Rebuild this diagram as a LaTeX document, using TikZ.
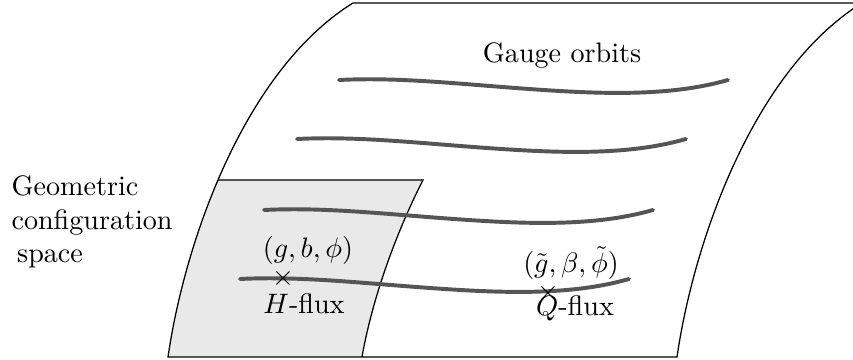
\documentclass[tikz,border=0pt]{standalone}
\usepackage{amsmath}
\usepackage{amssymb}
\usepackage{xcolor}
\usepackage{tikz}
\usetikzlibrary{positioning}
\definecolor{inkblack}{RGB}{0,0,0}
\definecolor{orbitgray}{RGB}{85,85,85}
\definecolor{lightgray}{RGB}{233,233,233}

\begin{document}
\begin{tikzpicture}[x=0.0125cm, y=-0.0125cm, every node/.style={align=center, inner sep=0pt},
  sheet/.style={draw=inkblack, line width=0.45pt},
  region/.style={fill=lightgray},
  orbit/.style={draw=orbitgray, line width=1.4pt, line cap=round},
  lbl/.style={font=\normalsize}]
\useasboundingbox (0,0) rectangle (853,360);
\begin{scope}
  \clip (168,357) .. controls (185,240) and (245,70) .. (353,3) -- (862,3)
        .. controls (754,70) and (694,240) .. (677,357) -- cycle;
  \path[region] (100,180) -- (423,180) .. controls (395,235) and (372,300) .. (362,357)
        -- (100,357) -- cycle;
  \draw[sheet] (100,180) -- (423,180) .. controls (395,235) and (372,300) .. (362,357);
\end{scope}
\draw[sheet] (168,357) .. controls (185,240) and (245,70) .. (353,3) -- (862,3)
      .. controls (754,70) and (694,240) .. (677,357) -- cycle;
\foreach \sx/\sy in {339/80, 297/139, 264/210, 240/279}
  \draw[orbit, shift={(\sx,\sy)}] (0,0) .. controls (60,-3) and (120,4) .. (190,9)
        .. controls (260,14) and (330,17) .. (389,0);
\node[lbl] (gauge) at (562,55) {Gauge orbits};
\node[lbl, anchor=west, align=left] (geo) at (11,222)
  {Geometric\\configuration\\\hspace*{2pt}space};
\node (hcross) at (283,278) {$\times$};
\node[lbl] (hfield) at (308,250) {$(g,b,\phi)$};
\node[lbl] (hflux) at (304,304) {$H$-flux};
\node (qcross) at (548,293) {$\times$};
\node[lbl] (qfield) at (571,263) {$(\tilde{g},\beta,\tilde{\phi})$};
\node[lbl] (qflux) at (575,308) {$Q$-flux};
\end{tikzpicture}
\end{document}
